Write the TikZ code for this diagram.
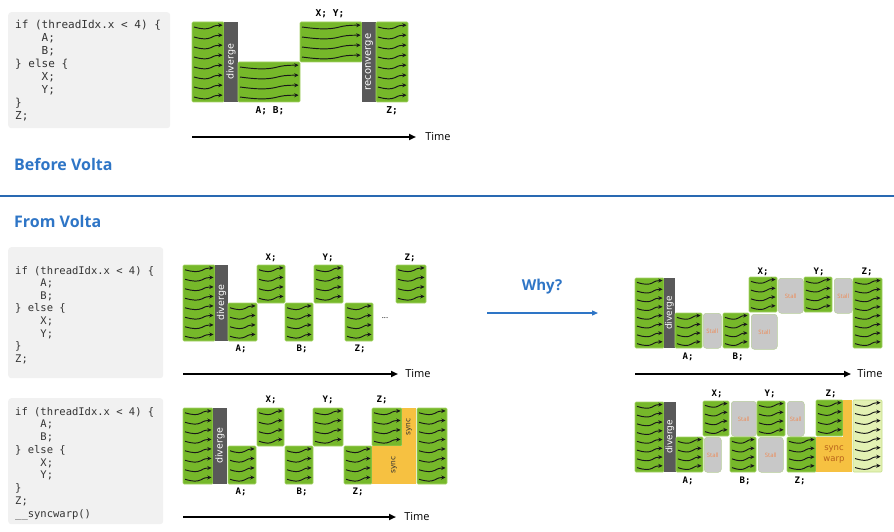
\documentclass[tikz,border=0pt]{standalone}
\usepackage{fontspec}
\setmainfont{Open Sans}
\newfontfamily\codefont{DejaVu Sans Mono}
\newfontfamily\barfont{DejaVu Sans}
\usetikzlibrary{arrows.meta}
\definecolor{nvgreen}{HTML}{76B82A}
\definecolor{nvedge}{HTML}{A6D36A}
\definecolor{bargray}{HTML}{595959}
\definecolor{codebg}{HTML}{F1F1F1}
\definecolor{codetxt}{HTML}{333333}
\definecolor{voltablue}{HTML}{2E75C6}
\definecolor{stallgray}{HTML}{C8C8C8}
\definecolor{stalltxt}{HTML}{EE8A55}
\definecolor{syncyel}{HTML}{F6C141}
\definecolor{lightgreen}{HTML}{E3F1B3}
\definecolor{lightedge}{HTML}{C4DE8A}
\definecolor{syncbrown}{HTML}{B8621B}
\tikzset{
 gblk/.style={fill=nvgreen, draw=nvedge, line width=0.6pt, rounded corners=1pt, inner sep=0pt, outer sep=0pt},
 lblk/.style={fill=lightgreen, draw=lightedge, line width=0.6pt, rounded corners=1pt, inner sep=0pt, outer sep=0pt},
 wv/.style={line width=0.95pt, black!90, -{Stealth[length=4.2pt,width=4pt]}},
 barbox/.style={fill=bargray, text=white, font=\barfont\fontsize{9.5}{10}\selectfont, inner sep=0pt, rotate=90},
 stallbox/.style={fill=stallgray, draw=nvedge!50!stallgray, line width=0.5pt, rounded corners=3pt, text=stalltxt, font=\fontsize{6}{7}\selectfont, inner sep=0pt},
 syncbox/.style={fill=syncyel, inner sep=0pt, outer sep=0pt, font=\barfont\fontsize{7.5}{8}\selectfont, text=codetxt},
 codebox/.style={fill=codebg, rounded corners=3pt, inner sep=0pt, anchor=north west},
 codeline/.style={font=\codefont\fontsize{11}{13}\selectfont, text=codetxt, anchor=base west, inner sep=0pt},
 codeline2/.style={codeline, font=\codefont\fontsize{10.5}{12}\selectfont},
 lbl/.style={font=\codefont\bfseries\fontsize{9}{10}\selectfont, inner sep=0pt},
 timearrow/.style={line width=1.8pt, -{Triangle[length=7pt,width=6pt]}},
 timelbl/.style={font=\fontsize{11}{12}\selectfont, inner sep=0pt},
 heading/.style={font=\bfseries\fontsize{16}{18}\selectfont, text=voltablue, anchor=base west, inner sep=0pt},
}
% green warp block: [style]{name}{x1}{y1}{x2}{y2}{arrows}
\newcommand\warpblk[7][gblk]{%
  \node[#1, anchor=north west, minimum width={(#5-#3)*1pt}, minimum height={(#6-#4)*1pt}] (#2) at (#3,#4) {};
  \foreach \i in {1,...,#7}{
    \pgfmathsetmacro\yy{#4+(\i-0.5)*(#6-#4)/#7}
    \pgfmathsetmacro\xa{#3+2}
    \pgfmathsetmacro\xb{#5-1.5}
    \pgfmathsetmacro\ww{\xb-\xa}
    \draw[wv] (\xa,\yy) .. controls (\xa+0.3*\ww,\yy+2.4) and (\xa+0.45*\ww,\yy+2.4) .. (\xa+0.6*\ww,\yy+0.6) .. controls (\xa+0.72*\ww,\yy-1.4) and (\xa+0.8*\ww,\yy-1.8) .. (\xb,\yy-1.8);
  }
}
% stall box: {name}{x1}{y1}{x2}{y2}
\newcommand\stallblk[5]{%
  \node[stallbox, anchor=north west, minimum width={(#4-#2)*1pt}, minimum height={(#5-#3)*1pt}] (#1) at (#2,#3) {Stall};
}
\begin{document}
\begin{tikzpicture}[x=1pt, y=-1pt]
\useasboundingbox (0,0) rectangle (894,532);

% ---------------- Before Volta ----------------
\node[codebox, minimum width=162pt, minimum height=116pt] (cb1) at (8,12) {};
\foreach \t [count=\k] in {{if (threadIdx.x < 4) \{}, {\phantom{0000}A;}, {\phantom{0000}B;}, {\} else \{}, {\phantom{0000}X;}, {\phantom{0000}Y;}, {\}}, {Z;}}
  \node[codeline] (c1-\k) at (15, {29+(\k-1)*12.9}) {\t};

\warpblk{t1}{192}{22}{224}{102}{8}
\node[barbox, minimum width=80pt, minimum height=14pt] (tdiv) at (231,62) {diverge};
\warpblk{tA}{238}{62}{300}{102}{4}
\warpblk{tX}{300}{22}{362}{62}{4}
\node[barbox, font=\barfont\fontsize{10}{10}\selectfont, minimum width=80pt, minimum height=14pt] (trec) at (369,62) {reconverge};
\warpblk{tZ}{376}{22}{408}{102}{8}
\node[lbl, font=\codefont\bfseries\fontsize{9.5}{10}\selectfont] (ltXY) at (330,14) {X;~Y;};
\node[lbl, font=\codefont\bfseries\fontsize{9.5}{10}\selectfont] (ltAB) at (270,111) {A;~B;};
\node[lbl, font=\codefont\bfseries\fontsize{9.5}{10}\selectfont] (ltZ) at (392,111) {Z;};
\coordinate (ts1) at (192,137); \coordinate (te1) at (416,137);
\draw[timearrow] (ts1) -- (te1);
\node[timelbl] (time1) at (438,137) {Time};
\node[heading] (before) at (14,170) {Before Volta};

% separator
\coordinate (sepL) at (0,196); \coordinate (sepR) at (894,196);
\draw[voltablue!90!black, line width=2.5pt] (sepL) -- (sepR);

% ---------------- From Volta ----------------
\node[heading] (from) at (14,227) {From Volta};

\node[codebox, minimum width=155pt, minimum height=131pt] (cb2) at (8,247) {};
\foreach \t [count=\k] in {{if (threadIdx.x < 4) \{}, {\phantom{0000}A;}, {\phantom{0000}B;}, {\} else \{}, {\phantom{0000}X;}, {\phantom{0000}Y;}, {\}}, {Z;}}
  \node[codeline2] (c2-\k) at (15, {274+(\k-1)*12.6}) {\t};

\node[codebox, minimum width=155pt, minimum height=126pt] (cb3) at (8,398) {};
\foreach \t [count=\k] in {{if (threadIdx.x < 4) \{}, {\phantom{0000}A;}, {\phantom{0000}B;}, {\} else \{}, {\phantom{0000}X;}, {\phantom{0000}Y;}, {\}}, {Z;}, {\_\_syncwarp()}}
  \node[codeline2] (c3-\k) at (15, {415+(\k-1)*12.75}) {\t};

% middle diagram
\warpblk{m1}{183}{265}{215}{341}{8}
\node[barbox, minimum width=76pt, minimum height=13pt] (mdiv) at (221.5,303) {diverge};
\warpblk{mA}{228}{303}{257}{341}{4}
\warpblk{mX}{257}{265}{285}{303}{4}
\warpblk{mB}{285}{303}{313}{341}{4}
\warpblk{mY}{314}{265}{343}{303}{4}
\warpblk{mZa}{345}{303}{373}{341}{4}
\warpblk{mZb}{396}{265}{426}{303}{4}
\node[lbl] (lmX) at (271,258) {X;};
\node[lbl] (lmY) at (328,258) {Y;};
\node[lbl] (lmZb) at (410,258) {Z;};
\node[lbl] (lmA) at (241,349) {A;};
\node[lbl] (lmB) at (302,349) {B;};
\node[lbl] (lmZa) at (360,349) {Z;};
\node[lbl, font=\fontsize{8}{9}\selectfont] (dots) at (385,318) {...};
\coordinate (ts2) at (183,374); \coordinate (te2) at (398,374);
\draw[timearrow] (ts2) -- (te2);
\node[timelbl] (time2) at (418,374) {Time};

% bottom diagram
\warpblk{b1}{183}{408}{213}{484}{8}
\node[barbox, minimum width=76pt, minimum height=14pt] (bdiv) at (220,446) {diverge};
\warpblk{bA}{228}{446}{256}{484}{4}
\warpblk{bX}{257}{408}{284}{446}{4}
\warpblk{bB}{285}{446}{313}{484}{4}
\warpblk{bY}{313}{408}{343}{446}{4}
\warpblk{bZa}{344}{446}{372}{484}{4}
\warpblk{bZb}{372}{408}{402}{446}{4}
\node[syncbox, rotate=90, minimum width=38pt, minimum height=44pt] (bsync1) at (394,465) {sync};
\node[syncbox, rotate=90, minimum width=39pt, minimum height=14pt] (bsync2) at (409,427) {sync};
\warpblk{bF}{417}{408}{447}{484}{8}
\node[lbl] (lbX) at (271,400) {X;};
\node[lbl] (lbY) at (328,400) {Y;};
\node[lbl] (lbZb) at (382,400) {Z;};
\node[lbl] (lbA) at (241,492) {A;};
\node[lbl] (lbB) at (302,492) {B;};
\node[lbl] (lbZa) at (358,492) {Z;};
\coordinate (ts3) at (183,517); \coordinate (te3) at (396,517);
\draw[timearrow] (ts3) -- (te3);
\node[timelbl] (time3) at (417,517) {Time};

% Why?
\node[font=\bfseries\fontsize{15}{17}\selectfont, text=voltablue, inner sep=0pt] (why) at (542,287) {Why?};
\coordinate (ws) at (487,313); \coordinate (we) at (598,313);
\draw[voltablue, line width=1.2pt, -{Triangle[length=6pt,width=5pt]}] (ws) -- (we);

% right top diagram
\warpblk{r1}{635}{278}{664}{348}{8}
\node[barbox, font=\barfont\fontsize{9}{10}\selectfont, minimum width=70pt, minimum height=11pt] (rdiv) at (669.5,313) {diverge};
\warpblk{rA}{675}{313}{702}{348}{4}
\stallblk{rs1}{703}{313}{721}{348}
\warpblk{rB}{723}{313}{749}{348}{4}
\stallblk{rs2}{751}{314}{777}{349}
\warpblk{rX}{749}{277}{777}{312}{4}
\stallblk{rs3}{778}{278}{803}{313}
\warpblk{rY}{804}{277}{832}{312}{4}
\stallblk{rs4}{834}{278}{852}{313}
\warpblk{rZ}{853}{278}{882}{348}{8}
\node[lbl] (lrX) at (763,272) {X;};
\node[lbl] (lrY) at (819,272) {Y;};
\node[lbl] (lrZ) at (867,272) {Z;};
\node[lbl] (lrA) at (688,357) {A;};
\node[lbl] (lrB) at (738,357) {B;};
\coordinate (ts4) at (635,374); \coordinate (te4) at (851,374);
\draw[timearrow] (ts4) -- (te4);
\node[timelbl] (time4) at (870,374) {Time};

% right bottom diagram
\warpblk{s1}{635}{402}{664}{472}{8}
\node[barbox, font=\barfont\fontsize{9}{10}\selectfont, minimum width=70pt, minimum height=12pt] (sdiv) at (670,437) {diverge};
\warpblk{sA}{676}{437}{703}{472}{4}
\warpblk{sX}{703}{401}{729}{436}{4}
\stallblk{ss1}{704}{437}{721}{472}
\stallblk{ss2}{731}{401}{756}{436}
\warpblk{sB}{730}{437}{756}{472}{4}
\warpblk{sY}{757}{401}{785}{436}{4}
\stallblk{ss3}{758}{437}{783}{472}
\stallblk{ss4}{787}{401}{804}{436}
\warpblk{sZa}{787}{437}{816}{472}{4}
\warpblk{sZb}{816}{400}{843}{436}{4}
\node[syncbox, anchor=north west, minimum width=36pt, minimum height=35pt, align=center, text=syncbrown, font=\barfont\fontsize{8.5}{11}\selectfont] (ssync1) at (816,437) {sync\\warp};
\node[syncbox, anchor=north west, minimum width=9pt, minimum height=37.5pt] (ssync2) at (843,400) {};
\warpblk[lblk]{sF}{853}{400}{882}{472}{8}
\node[lbl] (lsX) at (717,394) {X;};
\node[lbl] (lsY) at (770,394) {Y;};
\node[lbl] (lsZb) at (831,394) {Z;};
\node[lbl] (lsA) at (688,481) {A;};
\node[lbl] (lsB) at (745,481) {B;};
\node[lbl] (lsZa) at (800,481) {Z;};
\end{tikzpicture}
\end{document}
